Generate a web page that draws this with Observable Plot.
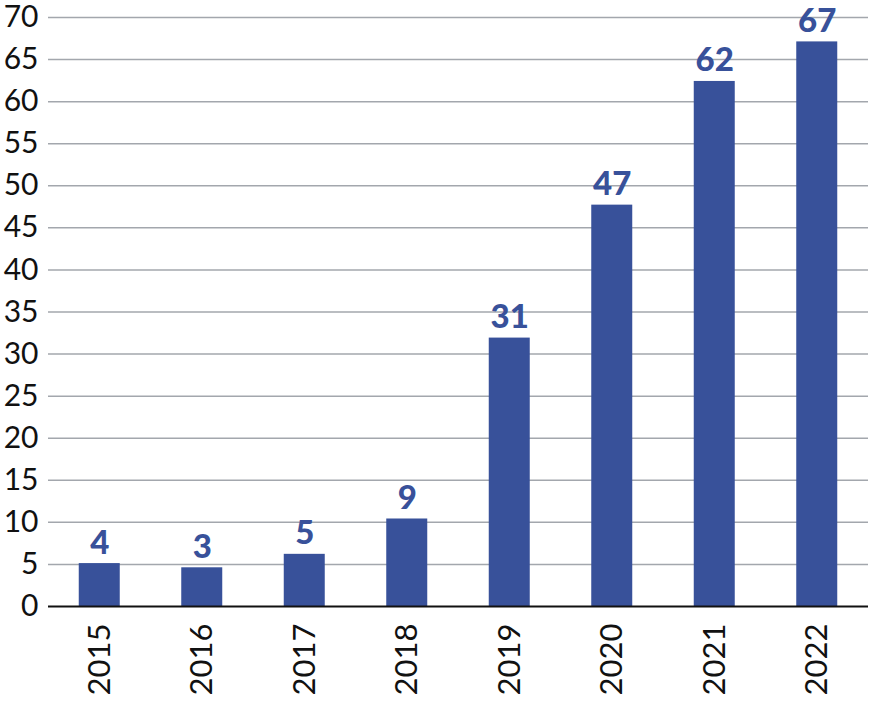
<!DOCTYPE html>
<html>
<head>
<meta charset="utf-8">
<script src="https://cdn.jsdelivr.net/npm/d3@7"></script>
<script src="https://cdn.jsdelivr.net/npm/@observablehq/plot@0.6"></script>
<style>
  html, body { margin: 0; padding: 0; background: #fff; }
  #chart svg { display: block; overflow: visible; }
</style>
</head>
<body>
<div id="chart"></div>
<script>
const years = ["2015", "2016", "2017", "2018", "2019", "2020", "2021", "2022"];
const barValues = [5.1, 4.6, 6.2, 10.4, 31.9, 47.7, 62.4, 67.1];
const labels = ["4", "3", "5", "9", "31", "47", "62", "67"];
const yTicks = [0, 5, 10, 15, 20, 25, 30, 35, 40, 45, 50, 55, 60, 65, 70];

const data = years.map((y, i) => ({year: y, value: barValues[i], label: labels[i]}));
const blue = "#38519a";

const chart = Plot.plot({
  width: 869,
  height: 713,
  marginTop: 17,
  marginBottom: 107,
  marginLeft: 48,
  marginRight: 1,
  style: {fontFamily: "Lato, sans-serif", background: "#fff", overflow: "visible"},
  x: {domain: years, paddingInner: 0.6, paddingOuter: 0.3, round: false, label: null},
  y: {domain: [0, 70], label: null},
  marks: [
    Plot.ruleY(yTicks.filter(d => d > 0), {stroke: "#a3a7ad", strokeWidth: 1.5}),
    Plot.barY(data, {x: "year", y: "value", fill: blue}),
    Plot.ruleY([0], {stroke: "#111", strokeWidth: 2}),
    Plot.text(data, {x: "year", y: "value", text: "label", fill: blue, fontSize: 33, fontWeight: 900, lineAnchor: "bottom", dy: -10}),
    Plot.axisY({ticks: yTicks, tickSize: 0, tickPadding: 10, fontSize: 30, fill: "#111", label: null}),
    Plot.axisX({tickSize: 0, tickPadding: 17, tickRotate: -90, fontSize: 31, fill: "#111", label: null})
  ]
});
document.getElementById("chart").appendChild(chart);
</script>
</body>
</html>
